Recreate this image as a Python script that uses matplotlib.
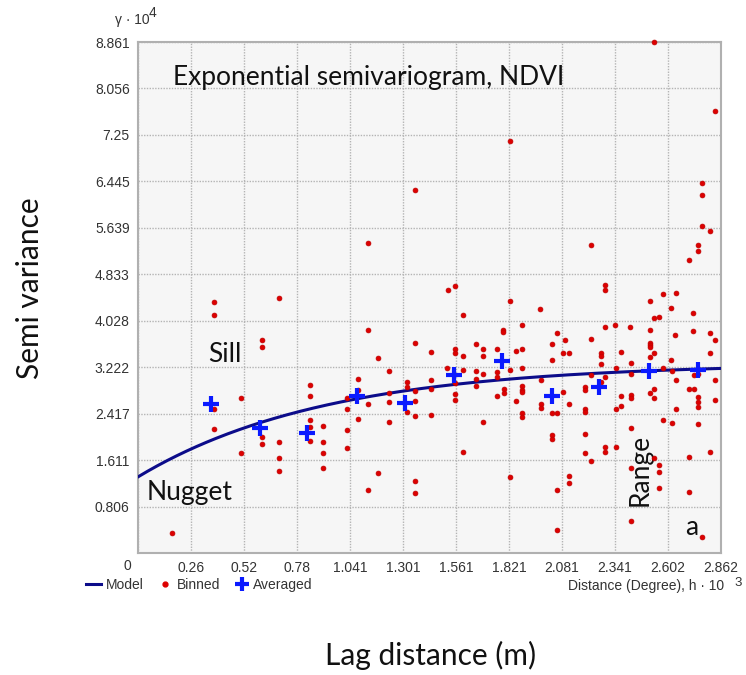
import numpy as np
import matplotlib
matplotlib.use("Agg")
import matplotlib.pyplot as plt
from matplotlib.lines import Line2D

# ---------------- data ----------------
binned_x = [2.533, 2.832, 1.825, 1.359, 2.769, 2.769,
            1.128, 0.374, 0.374, 0.694, 1.128,
            2.769, 2.809, 2.222, 2.748, 2.748, 2.707, 1.554, 1.522, 2.294, 2.294,
            2.643, 2.579, 2.514, 1.825, 1.972, 2.617, 2.725, 1.595, 2.558, 2.535,
            1.885, 2.343, 2.294, 2.417, 2.514, 2.725, 1.794, 1.794, 2.059, 2.809,
            0.608, 0.608, 1.358, 1.179, 1.231, 1.079, 1.079, 0.843, 0.843, 0.508,
            1.322, 1.322, 1.358, 1.231, 1.028, 1.130, 1.231, 1.358, 0.374, 1.028,
            1.322, 1.358, 1.079, 0.843, 1.231, 0.843, 0.907, 0.374, 1.028, 0.608,
            0.608, 0.694, 0.843, 0.907, 1.028, 0.508, 0.907,
            1.440, 1.554, 1.554, 1.595, 1.661, 1.696, 1.696, 1.763, 1.858, 1.885,
            2.094, 2.222, 2.032, 2.087, 2.115, 2.032, 2.271, 2.271, 2.369, 2.514,
            2.514, 2.514, 2.535, 2.514, 2.638, 2.618, 2.809, 2.833, 1.518, 1.440,
            1.440, 1.554, 1.595, 1.661, 1.661, 1.661, 1.696, 1.763, 1.763, 1.825,
            1.885, 1.795, 1.795, 1.763, 1.885, 1.885, 1.885, 1.976, 1.858, 1.976,
            1.976, 2.032, 2.059, 2.087, 2.115, 2.222, 2.294, 2.194, 2.194, 2.194,
            2.194, 2.271, 2.271, 2.345, 2.419, 2.419, 2.369, 2.369, 2.345, 2.419,
            2.419, 2.579, 2.620, 2.535, 2.514, 2.535, 2.641, 2.707, 2.727, 2.748,
            2.748, 2.748, 2.833, 2.833, 2.641, 2.579, 2.620, 2.748, 2.419, 1.696,
            1.885, 1.885, 2.032, 2.032, 2.194, 2.294, 2.294, 2.345, 2.194, 2.809,
            1.595, 1.440, 1.554, 1.554, 2.727, 2.747,
            0.169, 0.694, 0.694, 0.907, 1.179, 1.130, 1.358, 1.358,
            1.825, 2.115, 2.115, 2.059, 2.059, 2.419, 2.419, 2.535, 2.558, 2.558,
            2.558, 2.707, 2.707, 2.769, 2.222]
binned_y = [8.86, 7.67, 7.14, 6.29, 6.42, 6.20,
            5.37, 4.36, 4.12, 4.43, 3.86,
            5.67, 5.59, 5.34, 5.34, 5.23, 5.08, 4.63, 4.56, 4.65, 4.56,
            4.50, 4.49, 4.37, 4.37, 4.23, 4.25, 4.17, 4.12, 4.10, 4.07,
            3.96, 3.96, 3.92, 3.92, 3.86, 3.85, 3.86, 3.83, 3.81, 3.81,
            3.69, 3.57, 3.64, 3.38, 3.16, 3.02, 2.82, 2.91, 2.72, 2.68,
            2.97, 2.87, 2.81, 2.77, 2.68, 2.59, 2.61, 2.63, 2.50, 2.50,
            2.44, 2.37, 2.33, 2.31, 2.27, 2.18, 2.21, 2.15, 2.13, 2.01,
            1.89, 1.93, 1.95, 1.93, 1.82, 1.73, 1.73,
            3.49, 3.53, 3.46, 3.42, 3.62, 3.54, 3.42, 3.53, 3.51, 3.53,
            3.69, 3.71, 3.62, 3.46, 3.46, 3.35, 3.46, 3.42, 3.49, 3.64,
            3.61, 3.58, 3.47, 3.40, 3.78, 3.35, 3.46, 3.69, 3.21, 3.00,
            2.85, 2.94, 3.18, 3.16, 3.01, 2.89, 3.10, 3.13, 3.06, 3.17,
            3.20, 2.85, 2.78, 2.73, 2.89, 2.83, 2.79, 3.00, 2.64, 2.59,
            2.52, 2.42, 2.42, 2.80, 2.58, 3.09, 3.05, 2.87, 2.82, 2.49,
            2.45, 3.28, 2.97, 3.21, 3.29, 3.11, 2.72, 2.55, 2.49, 2.74,
            2.69, 3.21, 3.16, 2.85, 2.77, 2.69, 3.00, 2.85, 2.85, 2.70,
            2.62, 2.54, 3.00, 2.66, 2.49, 2.30, 2.26, 2.23, 2.17, 2.27,
            2.42, 2.35, 2.05, 1.98, 2.07, 1.83, 1.76, 1.83, 1.73, 1.76,
            1.75, 2.40, 2.75, 2.66, 3.08, 3.10,
            0.35, 1.64, 1.43, 1.48, 1.39, 1.10, 1.25, 1.04,
            1.32, 1.34, 1.22, 1.10, 0.40, 1.47, 0.55, 1.64, 1.52, 1.41,
            1.12, 1.67, 1.06, 0.27, 1.59]

averaged_x = [0.357, 0.597, 0.831, 1.074, 1.313, 1.549, 1.789, 2.030, 2.264, 2.509, 2.748]
averaged_y = [2.58, 2.17, 2.08, 2.72, 2.60, 3.09, 3.33, 2.72, 2.87, 3.16, 3.18]

# exponential model parameters
nugget = 1.32
partial_sill = 1.97
model_range = 2.775

x_ticks = [0, 0.26, 0.52, 0.78, 1.041, 1.301, 1.561, 1.821, 2.081, 2.341, 2.602, 2.862]
x_tick_labels = ["", "0.26", "0.52", "0.78", "1.041", "1.301", "1.561", "1.821",
                 "2.081", "2.341", "2.602", "2.862"]
y_ticks = [0, 0.806, 1.611, 2.417, 3.222, 4.028, 4.833, 5.639, 6.445, 7.25, 8.056, 8.861]
y_tick_labels = ["", "0.806", "1.611", "2.417", "3.222", "4.028", "4.833", "5.639",
                 "6.445", "7.25", "8.056", "8.861"]

# ---------------- figure ----------------
W, H = 746, 675
fig = plt.figure(figsize=(W / 100, H / 100), dpi=100)
ax = fig.add_axes([138 / W, 1 - 553 / H, (721 - 138) / W, (553 - 42) / H])
ax.set_facecolor("#f6f6f6")

tick_font = dict(family=["Liberation Sans", "DejaVu Sans"], size=10, color="#333333")
big_font = ["Lato", "DejaVu Sans"]

hs = np.linspace(0, x_ticks[-1], 300)
model = nugget + partial_sill * (1 - np.exp(-3 * hs / model_range))
ax.plot(hs, model, color="#0c0c8a", lw=2.2, zorder=3)

ax.plot(binned_x, binned_y, ls="none", marker="o", ms=3.5, color="#dd0000",
        mec="#c00000", mew=0.5, zorder=4, clip_on=False)
ax.plot(averaged_x, averaged_y, ls="none", marker="+", ms=11, mew=3,
        color="#0a1aff", zorder=5)

ax.set_xlim(0, x_ticks[-1])
ax.set_ylim(0, y_ticks[-1])
ax.set_xticks(x_ticks)
ax.set_xticklabels(x_tick_labels, **tick_font)
ax.set_yticks(y_ticks)
ax.set_yticklabels(y_tick_labels, **tick_font)
ax.tick_params(length=0, pad=6)
ax.grid(True, color="#b4b4b4", lw=1.0, ls=(0, (1, 1)))
ax.set_axisbelow(True)
for s in ax.spines.values():
    s.set_color("#b0b0b0")
    s.set_linewidth(1.5)

# origin label
fig.text(127 / W, 1 - 566 / H, "0", ha="center", va="center", **tick_font)

# axis unit labels
fig.text(115 / W, 1 - 20 / H, "γ · 10", ha="left", va="center", **tick_font)
fig.text(149 / W, 1 - 13 / H, "4", ha="left", va="center", **tick_font)
fig.text(724 / W, 1 - 586 / H, "Distance (Degree), h · 10", ha="right", va="center", **tick_font)
fig.text(734 / W, 1 - 583 / H, "3", ha="left", va="center",
         family=["Liberation Sans", "DejaVu Sans"], size=9.5, color="#333333")

# annotations
ax.text(0.06, 0.955, "Exponential semivariogram, NDVI", transform=ax.transAxes,
        family=big_font, size=19, color="#111111", ha="left", va="top")
ax.text(0.345, 3.45, "Sill", family=big_font, size=19, color="#111111", ha="left", va="center")
ax.text(0.04, 1.05, "Nugget", family=big_font, size=19, color="#111111", ha="left", va="center")
ax.text(2.464, 1.44, "Range", family=big_font, size=19, color="#111111", ha="center",
        va="center", rotation=90)
ax.text(2.686, 0.44, "a", family=big_font, size=19, color="#111111", ha="left", va="center")

fig.text(30 / W, 1 - 288 / H, "Semi variance", family=big_font, size=21.5, color="#111111",
         ha="center", va="center", rotation=90)
fig.text(431 / W, 1 - 655 / H, "Lag distance (m)", family=big_font, size=21.5, color="#111111",
         ha="center", va="center")

# legend
handles = [Line2D([], [], color="#0c0c8a", lw=2.2),
           Line2D([], [], ls="none", marker="o", ms=3.5, color="#dd0000"),
           Line2D([], [], ls="none", marker="+", ms=10, mew=3, color="#0a1aff")]
fig.legend(handles, ["Model", "Binned", "Averaged"], loc="center left",
           bbox_to_anchor=(86 / W, 1 - 585 / H), ncol=3, frameon=False,
           prop=dict(family=["Liberation Sans", "DejaVu Sans"], size=10),
           labelcolor="#333333", handlelength=1.1, handletextpad=0.3,
           columnspacing=1.0, borderpad=0, borderaxespad=0)

fig.savefig("out.png", dpi=100, facecolor="white")
